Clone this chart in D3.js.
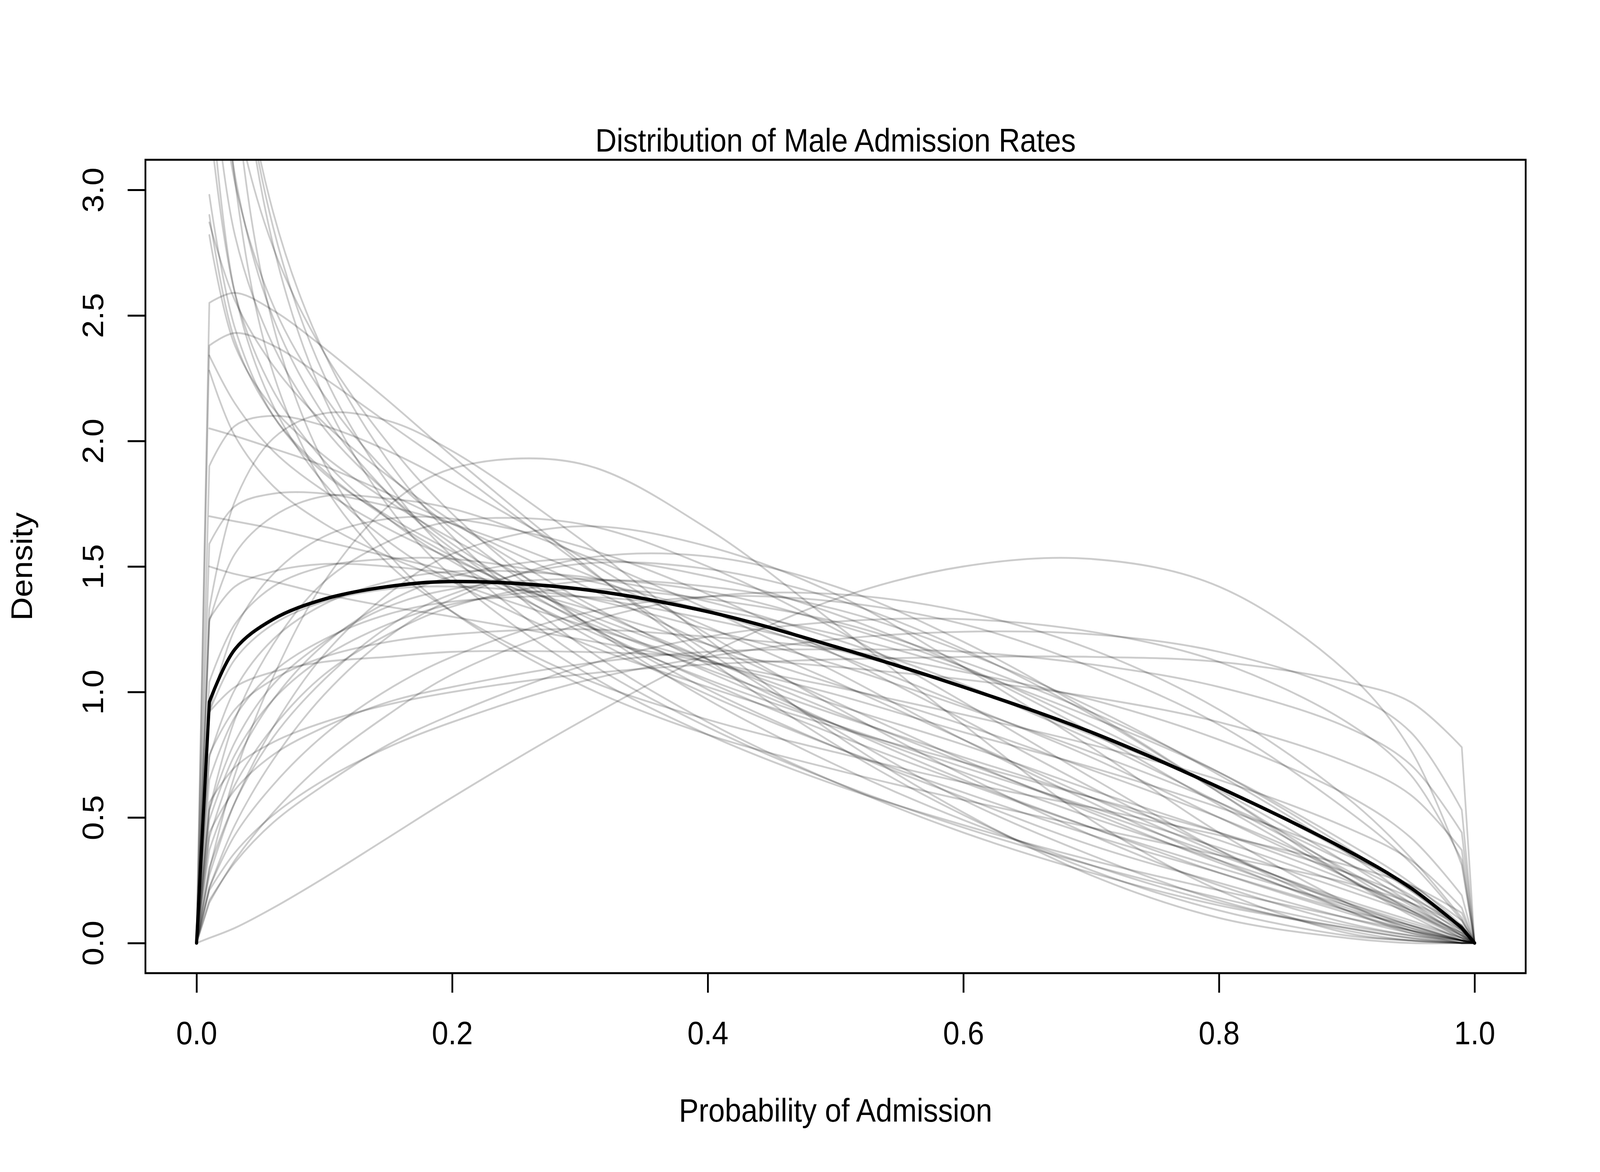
<!DOCTYPE html>
<html>
<head>
<meta charset="utf-8">
<script src="https://cdn.jsdelivr.net/npm/d3@7"></script>
<style>
html,body{margin:0;padding:0;background:#fff;overflow:hidden;}
svg{display:block;}
</style>
</head>
<body>
<svg id="chart"></svg>
<script>
// ---------------- data ----------------
const chartTitle = "Distribution of Male Admission Rates";
const xLabel = "Probability of Admission";
const yLabel = "Density";
const xTicks = [0, 0.2, 0.4, 0.6, 0.8, 1.0];
const yTicks = [0, 0.5, 1.0, 1.5, 2.0, 2.5, 3.0];

// x positions at which each density curve was read
const gridX = [0, 0.01, 0.03, 0.06, 0.1, 0.15, 0.2, 0.3, 0.4, 0.5, 0.6, 0.7, 0.8, 0.9, 0.95, 0.99, 1];

// thick black curve (posterior mean)
const meanDensity = [0, 0.96, 1.17, 1.29, 1.37, 1.42, 1.44, 1.41, 1.32, 1.18, 1.02, 0.84, 0.62, 0.37, 0.22, 0.06, 0];

// grey sample curves; null = unbounded at x = 0 (no segment drawn there)
const steepCurves = [
  [null, 5.64, 3.41, 2.46, 1.91, 1.55, 1.32, 1.03, 0.83, 0.69, 0.57, 0.46, 0.35, 0.24, 0.16, 0.07, 0],
  [null, 4.76, 3.04, 2.27, 1.82, 1.51, 1.32, 1.06, 0.89, 0.76, 0.64, 0.54, 0.43, 0.31, 0.23, 0.12, 0],
  [null, 6.00, 3.79, 2.78, 2.17, 1.74, 1.46, 1.09, 0.83, 0.63, 0.47, 0.33, 0.21, 0.10, 0.05, 0.01, 0],
  [null, 5.68, 3.77, 2.85, 2.26, 1.83, 1.54, 1.14, 0.86, 0.64, 0.46, 0.31, 0.18, 0.07, 0.03, 0.01, 0],
  [null, 5.35, 3.74, 2.91, 2.35, 1.92, 1.62, 1.19, 0.88, 0.64, 0.44, 0.28, 0.15, 0.06, 0.02, 0.00, 0],
  [null, 4.11, 3.06, 2.49, 2.10, 1.79, 1.57, 1.24, 0.99, 0.78, 0.60, 0.43, 0.28, 0.13, 0.07, 0.01, 0],
  [null, 3.45, 2.59, 2.14, 1.83, 1.60, 1.44, 1.20, 1.02, 0.86, 0.72, 0.58, 0.44, 0.28, 0.18, 0.07, 0],
  [null, 3.29, 2.59, 2.20, 1.92, 1.69, 1.52, 1.26, 1.05, 0.87, 0.70, 0.54, 0.38, 0.21, 0.12, 0.03, 0],
  [null, 3.87, 3.03, 2.54, 2.18, 1.87, 1.65, 1.29, 1.01, 0.78, 0.58, 0.39, 0.24, 0.10, 0.04, 0.01, 0],
  [null, 4.29, 3.34, 2.77, 2.35, 1.99, 1.71, 1.29, 0.97, 0.71, 0.49, 0.31, 0.16, 0.06, 0.02, 0.00, 0],
  [null, 3.58, 2.82, 2.38, 2.05, 1.79, 1.59, 1.28, 1.04, 0.83, 0.64, 0.46, 0.30, 0.15, 0.07, 0.01, 0]
];
const startCurves = [
  [null, 2.98, 2.45, 2.10, 1.87, 1.70, 1.56, 1.31, 1.08, 0.87, 0.68, 0.50, 0.33, 0.16, 0.08, 0.02, 0],
  [null, 2.90, 2.40, 2.10, 1.88, 1.69, 1.54, 1.29, 1.09, 0.91, 0.74, 0.58, 0.41, 0.23, 0.13, 0.04, 0],
  [null, 2.87, 2.56, 2.30, 2.07, 1.86, 1.68, 1.37, 1.11, 0.87, 0.65, 0.46, 0.28, 0.12, 0.05, 0.01, 0],
  [null, 2.82, 2.38, 2.13, 1.94, 1.76, 1.61, 1.35, 1.13, 0.92, 0.72, 0.53, 0.35, 0.17, 0.09, 0.02, 0],
  [null, 2.34, 2.15, 1.96, 1.80, 1.65, 1.53, 1.32, 1.13, 0.95, 0.79, 0.61, 0.44, 0.25, 0.14, 0.04, 0],
  [null, 2.28, 2.02, 1.82, 1.67, 1.54, 1.44, 1.27, 1.12, 0.99, 0.84, 0.70, 0.54, 0.35, 0.23, 0.09, 0],
  [null, 1.50, 1.47, 1.44, 1.39, 1.34, 1.30, 1.21, 1.12, 1.02, 0.91, 0.79, 0.65, 0.46, 0.33, 0.14, 0],
  [null, 1.70, 1.68, 1.65, 1.60, 1.54, 1.48, 1.34, 1.19, 1.03, 0.87, 0.69, 0.50, 0.28, 0.16, 0.05, 0],
  [null, 2.05, 2.02, 1.97, 1.90, 1.79, 1.67, 1.43, 1.19, 0.96, 0.73, 0.52, 0.32, 0.14, 0.06, 0.01, 0]
];
const lowHumpCurves = [
  [0, 2.38, 2.43, 2.38, 2.25, 2.07, 1.89, 1.51, 1.16, 0.85, 0.57, 0.35, 0.17, 0.05, 0.01, 0.00, 0],
  [0, 2.55, 2.59, 2.52, 2.37, 2.16, 1.94, 1.52, 1.13, 0.79, 0.51, 0.29, 0.13, 0.03, 0.01, 0.00, 0],
  [0, 1.90, 2.06, 2.10, 2.06, 1.96, 1.83, 1.54, 1.23, 0.94, 0.67, 0.43, 0.23, 0.08, 0.03, 0.00, 0],
  [0, 1.33, 1.76, 2.01, 2.11, 2.08, 1.96, 1.61, 1.21, 0.83, 0.52, 0.27, 0.10, 0.02, 0.00, 0.00, 0],
  [0, 1.59, 1.74, 1.79, 1.79, 1.74, 1.67, 1.48, 1.26, 1.04, 0.81, 0.58, 0.36, 0.16, 0.07, 0.01, 0],
  [0, 1.28, 1.55, 1.70, 1.78, 1.77, 1.73, 1.55, 1.33, 1.08, 0.81, 0.56, 0.33, 0.13, 0.05, 0.01, 0]
];
const midHumpCurves = [
  [0, 0.29, 0.67, 1.06, 1.44, 1.74, 1.89, 1.91, 1.65, 1.27, 0.87, 0.49, 0.21, 0.04, 0.01, 0.00, 0],
  [0, 0.27, 0.56, 0.86, 1.15, 1.39, 1.55, 1.66, 1.58, 1.39, 1.10, 0.78, 0.44, 0.16, 0.05, 0.00, 0],
  [0, 0.22, 0.47, 0.73, 0.99, 1.22, 1.37, 1.53, 1.54, 1.42, 1.20, 0.92, 0.60, 0.26, 0.11, 0.01, 0],
  [0, 0.02, 0.06, 0.14, 0.26, 0.42, 0.58, 0.88, 1.15, 1.37, 1.50, 1.53, 1.42, 1.08, 0.77, 0.31, 0],
  [0, 0.53, 0.80, 1.03, 1.20, 1.34, 1.41, 1.45, 1.40, 1.27, 1.10, 0.87, 0.61, 0.32, 0.16, 0.03, 0],
  [0, 0.16, 0.33, 0.52, 0.72, 0.91, 1.07, 1.27, 1.38, 1.39, 1.32, 1.17, 0.93, 0.58, 0.34, 0.10, 0],
  [0, 0.49, 0.75, 0.97, 1.14, 1.27, 1.35, 1.41, 1.37, 1.28, 1.12, 0.92, 0.68, 0.38, 0.21, 0.05, 0],
  [0, 0.65, 0.90, 1.08, 1.21, 1.31, 1.36, 1.38, 1.33, 1.23, 1.09, 0.90, 0.68, 0.40, 0.24, 0.07, 0],
  [0, 0.37, 0.63, 0.86, 1.07, 1.23, 1.34, 1.44, 1.42, 1.33, 1.16, 0.94, 0.67, 0.36, 0.18, 0.04, 0],
  [0, 1.04, 1.27, 1.42, 1.50, 1.53, 1.53, 1.45, 1.32, 1.15, 0.95, 0.74, 0.50, 0.26, 0.13, 0.03, 0],
  [0, 1.29, 1.42, 1.48, 1.51, 1.50, 1.47, 1.38, 1.25, 1.11, 0.94, 0.76, 0.56, 0.32, 0.19, 0.05, 0],
  [0, 0.92, 1.25, 1.47, 1.62, 1.69, 1.69, 1.58, 1.39, 1.15, 0.89, 0.62, 0.37, 0.15, 0.06, 0.01, 0],
  [0, 0.53, 0.89, 1.19, 1.44, 1.60, 1.68, 1.67, 1.50, 1.25, 0.96, 0.66, 0.37, 0.13, 0.04, 0.00, 0],
  [0, 0.30, 0.56, 0.82, 1.05, 1.26, 1.39, 1.51, 1.49, 1.37, 1.17, 0.91, 0.60, 0.28, 0.13, 0.02, 0],
  [0, 0.92, 1.13, 1.27, 1.36, 1.41, 1.42, 1.38, 1.29, 1.17, 1.02, 0.83, 0.62, 0.36, 0.21, 0.06, 0],
  [0, 0.22, 0.43, 0.63, 0.83, 1.01, 1.14, 1.31, 1.38, 1.36, 1.27, 1.10, 0.87, 0.53, 0.32, 0.09, 0],
  [0, 0.42, 0.71, 0.97, 1.19, 1.36, 1.46, 1.53, 1.46, 1.31, 1.10, 0.84, 0.55, 0.26, 0.12, 0.02, 0],
  [0, 0.74, 1.01, 1.21, 1.35, 1.44, 1.48, 1.46, 1.36, 1.21, 1.03, 0.81, 0.56, 0.29, 0.15, 0.03, 0]
];
const flatCurves = [
  [0, 0.75, 0.93, 1.05, 1.14, 1.20, 1.23, 1.25, 1.22, 1.17, 1.08, 0.97, 0.81, 0.59, 0.42, 0.19, 0],
  [0, 0.56, 0.70, 0.80, 0.88, 0.95, 1.00, 1.07, 1.11, 1.13, 1.14, 1.14, 1.12, 1.04, 0.96, 0.78, 0],
  [0, 0.21, 0.36, 0.51, 0.65, 0.78, 0.88, 1.04, 1.14, 1.21, 1.24, 1.23, 1.16, 1.00, 0.84, 0.53, 0],
  [0, 0.44, 0.61, 0.75, 0.86, 0.96, 1.02, 1.11, 1.16, 1.17, 1.16, 1.11, 1.02, 0.86, 0.71, 0.44, 0],
  [0, 0.17, 0.32, 0.48, 0.63, 0.79, 0.91, 1.10, 1.22, 1.28, 1.29, 1.24, 1.12, 0.88, 0.67, 0.33, 0],
  [0, 0.92, 1.02, 1.08, 1.12, 1.14, 1.16, 1.16, 1.14, 1.10, 1.05, 0.98, 0.88, 0.72, 0.59, 0.37, 0]
];

// ---------------- layout ----------------
const W = 4500, H = 3000;
const L = 409, R = 4291, T = 409, B = 2491;
const FONT = '"Liberation Sans", Arial, Helvetica, sans-serif';
const FS = 83;

const x = d3.scaleLinear().domain([-0.04, 1.04]).range([L, R]);
const y = d3.scaleLinear().domain([-0.12, 3.12]).range([B, T]);

const vw = window.innerWidth || W, vh = window.innerHeight || H;
const svg = d3.select('#chart')
  .attr('width', vw).attr('height', vh)
  .attr('viewBox', `0 0 ${W} ${H}`)
  .attr('preserveAspectRatio', 'none');
svg.append('rect').attr('width', W).attr('height', H).attr('fill', '#fff');

svg.append('defs').append('clipPath').attr('id', 'plotClip')
  .append('rect').attr('x', L).attr('y', T).attr('width', R - L).attr('height', B - T);

const smooth = d3.line().x(d => x(d[0])).y(d => y(d[1])).curve(d3.curveCatmullRom.alpha(0.5));

function densityPath(vals) {
  const pts = gridX.map((g, i) => [g, vals[i]]).filter(p => p[1] !== null);
  const interior = pts.filter(p => p[0] > 0 && p[0] < 1);
  let d = smooth(interior);
  const first = pts[0], last = pts[pts.length - 1];
  if (first[0] === 0) d = `M${x(first[0])},${y(first[1])}L` + d.slice(1);
  if (last[0] === 1) d += `L${x(last[0])},${y(last[1])}`;
  return d;
}

const plot = svg.append('g').attr('clip-path', 'url(#plotClip)');

// mean curve first (drawn underneath, as in the original)
plot.append('path')
  .attr('d', densityPath(meanDensity))
  .attr('fill', 'none').attr('stroke', '#000').attr('stroke-width', 9)
  .attr('stroke-linejoin', 'round').attr('stroke-linecap', 'round');

const samples = [].concat(steepCurves, startCurves, lowHumpCurves, midHumpCurves, flatCurves);
plot.selectAll('path.sample').data(samples).enter().append('path')
  .attr('class', 'sample')
  .attr('d', d => densityPath(d))
  .attr('fill', 'none').attr('stroke', '#000').attr('stroke-opacity', 0.2)
  .attr('stroke-width', 4.8)
  .attr('stroke-linejoin', 'round').attr('stroke-linecap', 'round');

// box
svg.append('rect').attr('x', L).attr('y', T).attr('width', R - L).attr('height', B - T)
  .attr('fill', 'none').attr('stroke', '#000').attr('stroke-width', 5);

// x axis
const gx = svg.append('g').attr('transform', `translate(0,${B})`)
  .call(d3.axisBottom(x).tickValues(xTicks).tickFormat(d3.format('.1f')).tickSize(50).tickSizeOuter(0));
gx.select('.domain').remove();
gx.attr('font-size', FS).attr('font-family', FONT);
gx.selectAll('line').attr('stroke', '#000').attr('stroke-width', 5);
gx.selectAll('text').attr('y', 182).attr('dy', null).attr('fill', '#000');

// y axis
const gy = svg.append('g').attr('transform', `translate(${L},0)`)
  .call(d3.axisLeft(y).tickValues(yTicks).tickFormat(d3.format('.1f')).tickSize(50).tickSizeOuter(0));
gy.select('.domain').remove();
gy.attr('font-size', FS).attr('font-family', FONT);
gy.selectAll('line').attr('stroke', '#000').attr('stroke-width', 5);
gy.selectAll('text').attr('x', null).attr('dy', null).attr('fill', '#000')
  .attr('text-anchor', 'middle').attr('transform', `translate(${290 - L},0) rotate(-90)`);

// titles
svg.append('text').attr('x', (L + R) / 2).attr('y', 388).attr('text-anchor', 'middle')
  .attr('font-family', FONT).attr('font-size', FS).attr('fill', '#000').text(chartTitle);
svg.append('text').attr('x', (L + R) / 2).attr('y', 2871).attr('text-anchor', 'middle')
  .attr('font-family', FONT).attr('font-size', FS).attr('fill', '#000').text(xLabel);
svg.append('text').attr('transform', `translate(90,${(T + B) / 2}) rotate(-90)`).attr('text-anchor', 'middle')
  .attr('font-family', FONT).attr('font-size', FS).attr('fill', '#000').text(yLabel);
</script>
</body>
</html>
